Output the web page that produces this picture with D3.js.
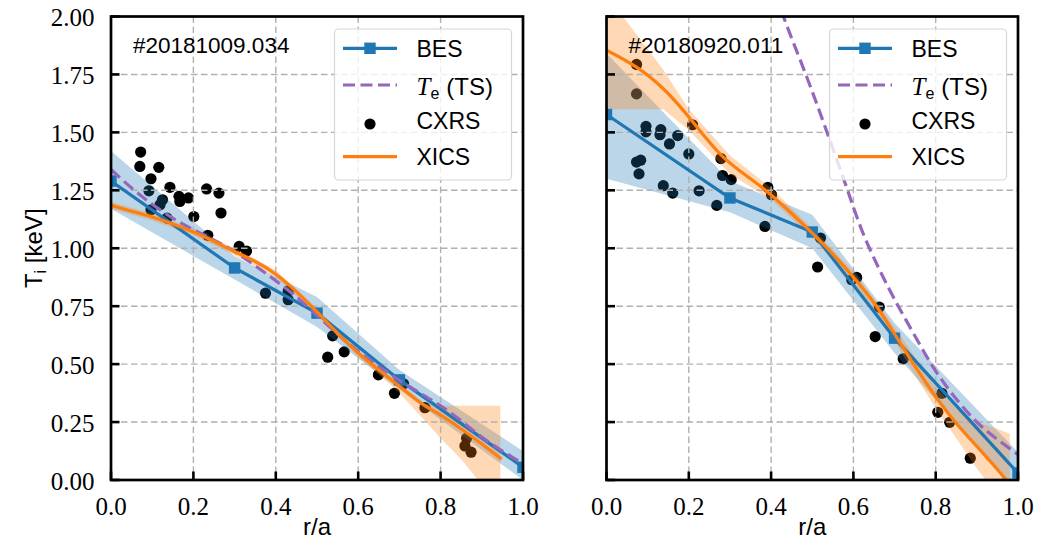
<!DOCTYPE html>
<html><head><meta charset="utf-8">
<script src="https://cdn.jsdelivr.net/npm/d3@7"></script>
<style>body{margin:0;background:#fff}svg{display:block}</style>
</head><body>
<svg id="c" width="1040" height="559"></svg>
<script>
// ---------- data ----------
const xTicks = [0, 0.2, 0.4, 0.6, 0.8, 1.0];
const yTicks = [0, 0.25, 0.5, 0.75, 1.0, 1.25, 1.5, 1.75, 2.0];
const shots = ["#20181009.034", "#20180920.011"];
const seriesNames = ["BES", "Te (TS)", "CXRS", "XICS"];

// BES (both panels share radial positions)
const besX = [0, 0.3, 0.5, 0.7, 1.0];
const besL = [1.29, 0.915, 0.72, 0.432, 0.055];
const besLoL = [1.17, 0.865, 0.66, 0.39, 0.0];
const besHiL = [1.42, 0.965, 0.79, 0.475, 0.125];
const besR = [1.577, 1.217, 1.07, 0.612, 0.03];
const besLoR = [1.30, 1.155, 1.0, 0.548, -0.06];
const besHiR = [1.84, 1.29, 1.145, 0.677, 0.12];

// Te (TS)
const teXL = [0, 0.05, 0.1, 0.15, 0.2, 0.25, 0.3, 0.35, 0.4, 0.45, 0.5, 0.55, 0.6, 0.65, 0.7, 0.75, 0.8, 0.85, 0.9, 0.95, 1.0];
const teL = [1.34, 1.26, 1.19, 1.13, 1.08, 1.035, 0.985, 0.925, 0.86, 0.79, 0.71, 0.63, 0.555, 0.49, 0.43, 0.375, 0.32, 0.255, 0.185, 0.125, 0.07];
const teXR = [0.40, 0.43, 0.48, 0.53, 0.58, 0.62, 0.66, 0.70, 0.75, 0.80, 0.85, 0.90, 0.95, 1.0];
const teR = [2.17, 2.0, 1.77, 1.53, 1.28, 1.08, 0.92, 0.78, 0.62, 0.47, 0.35, 0.25, 0.175, 0.11];

// XICS
const xicsXL = [0, 0.05, 0.1, 0.15, 0.2, 0.25, 0.3, 0.35, 0.4, 0.45, 0.5, 0.55, 0.6, 0.65, 0.7, 0.75, 0.8, 0.85, 0.9, 0.948];
const xicsL = [1.185, 1.16, 1.135, 1.105, 1.07, 1.03, 0.985, 0.943, 0.888, 0.813, 0.725, 0.633, 0.548, 0.475, 0.405, 0.335, 0.28, 0.22, 0.155, 0.09];
const xicsBandXL = [0, 0.1, 0.2, 0.3, 0.4, 0.5, 0.6, 0.65, 0.7, 0.76, 0.8, 0.85, 0.9, 0.945];
const xicsHiL = [1.2, 1.15, 1.085, 1.0, 0.905, 0.74, 0.56, 0.49, 0.42, 0.33, 0.32, 0.32, 0.32, 0.32];
const xicsLoL = [1.17, 1.12, 1.055, 0.97, 0.875, 0.71, 0.53, 0.455, 0.375, 0.26, 0.18, 0.09, -0.02, -0.12];
const xicsXR = [0, 0.07, 0.14, 0.21, 0.28, 0.35, 0.4, 0.45, 0.5, 0.55, 0.6, 0.65, 0.7, 0.75, 0.8, 0.85, 0.9, 0.95, 0.98];
const xicsR = [1.855, 1.785, 1.685, 1.545, 1.40, 1.30, 1.23, 1.15, 1.065, 0.975, 0.875, 0.765, 0.63, 0.49, 0.36, 0.245, 0.145, 0.045, -0.02];
const xicsBandXR = [0, 0.04, 0.1, 0.138, 0.2, 0.3, 0.4, 0.5, 0.6, 0.7, 0.75, 0.8, 0.85, 0.9, 0.95, 0.98];
const xicsHiR = [2.1, 2.0, 1.86, 1.77, 1.60, 1.40, 1.26, 1.085, 0.9, 0.66, 0.53, 0.40, 0.31, 0.25, 0.22, 0.20];
const xicsLoR = [1.60, 1.60, 1.60, 1.60, 1.51, 1.32, 1.21, 1.045, 0.85, 0.60, 0.45, 0.31, 0.18, 0.05, -0.07, -0.15];

// CXRS
const cxrsXL = [0.072, 0.070, 0.116, 0.097, 0.092, 0.143, 0.165, 0.188, 0.167, 0.232, 0.262, 0.267, 0.201, 0.125, 0.119, 0.097, 0.136, 0.235, 0.311, 0.329, 0.375, 0.430, 0.430, 0.538, 0.526, 0.566, 0.649, 0.710, 0.688, 0.762, 0.863, 0.859, 0.874];
const cxrsYL = [1.415, 1.353, 1.349, 1.300, 1.248, 1.263, 1.224, 1.217, 1.202, 1.256, 1.238, 1.152, 1.137, 1.209, 1.188, 1.166, 1.130, 1.056, 1.008, 0.988, 0.806, 0.816, 0.778, 0.622, 0.530, 0.553, 0.454, 0.415, 0.374, 0.312, 0.180, 0.147, 0.120];
const cxrsXR = [0.073, 0.073, 0.096, 0.096, 0.132, 0.130, 0.173, 0.153, 0.200, 0.209, 0.073, 0.083, 0.079, 0.138, 0.161, 0.225, 0.268, 0.278, 0.282, 0.303, 0.392, 0.401, 0.385, 0.520, 0.513, 0.608, 0.596, 0.663, 0.653, 0.721, 0.815, 0.805, 0.834, 0.884];
const cxrsYR = [1.793, 1.666, 1.526, 1.502, 1.512, 1.490, 1.486, 1.450, 1.407, 1.533, 1.372, 1.380, 1.321, 1.270, 1.238, 1.248, 1.185, 1.387, 1.314, 1.296, 1.263, 1.231, 1.094, 1.044, 0.919, 0.874, 0.864, 0.746, 0.619, 0.523, 0.374, 0.292, 0.249, 0.094];

// ---------- drawing ----------
const C = {bes: "#1f77b4", te: "#9467bd", xics: "#ff7f0e", cx: "#000"};
const SANS = "'Liberation Sans', Arial, sans-serif";
const SERIF = "'Liberation Serif', 'Times New Roman', serif";
const svg = d3.select("#c");
const yTop = 16.5, yBot = 480;
const y = d3.scaleLinear().domain([0, 2]).range([yBot, yTop]);
const LW = 3.2, DASH = "12,5.5";

const panels = [
  {x0: 111, x1: 523, shot: shots[0], bes: besL, besLo: besLoL, besHi: besHiL,
   teX: teXL, te: teL, xX: xicsXL, xv: xicsL, xbX: xicsBandXL, xLo: xicsLoL, xHi: xicsHiL,
   cX: cxrsXL, cY: cxrsYL, yLabels: true},
  {x0: 606.5, x1: 1018, shot: shots[1], bes: besR, besLo: besLoR, besHi: besHiR,
   teX: teXR, te: teR, xX: xicsXR, xv: xicsR, xbX: xicsBandXR, xLo: xicsLoR, xHi: xicsHiR,
   cX: cxrsXR, cY: cxrsYR, yLabels: false}
];

panels.forEach((p, i) => {
  const x = d3.scaleLinear().domain([0, 1]).range([p.x0, p.x1]);
  const clipId = "clip" + i;
  svg.append("clipPath").attr("id", clipId).append("rect")
    .attr("x", p.x0).attr("y", yTop).attr("width", p.x1 - p.x0).attr("height", yBot - yTop);
  const g = svg.append("g").attr("clip-path", `url(#${clipId})`);

  // CXRS points (below bands)
  g.selectAll("circle.cx").data(d3.zip(p.cX, p.cY)).join("circle")
    .attr("cx", d => x(d[0])).attr("cy", d => y(d[1])).attr("r", 5.6).attr("fill", C.cx);

  // bands
  const area = d3.area().x(d => x(d[0])).y0(d => y(d[1])).y1(d => y(d[2]));
  g.append("path").datum(d3.zip(besX, p.besLo, p.besHi)).attr("d", area)
    .attr("fill", C.bes).attr("fill-opacity", 0.3);
  g.append("path").datum(d3.zip(p.xbX, p.xLo, p.xHi)).attr("d", area)
    .attr("fill", C.xics).attr("fill-opacity", 0.3);

  // grid
  const grid = g.append("g").attr("stroke", "#b0b0b0").attr("stroke-width", 1.4)
    .attr("stroke-dasharray", "6.5,3.5");
  xTicks.forEach(t => grid.append("line").attr("x1", x(t)).attr("x2", x(t)).attr("y1", yTop).attr("y2", yBot));
  yTicks.forEach(t => grid.append("line").attr("x1", p.x0).attr("x2", p.x1).attr("y1", y(t)).attr("y2", y(t)));

  // lines
  const lin = d3.line().x(d => x(d[0])).y(d => y(d[1]));
  const smooth = d3.line().x(d => x(d[0])).y(d => y(d[1])).curve(d3.curveNatural);
  g.append("path").datum(d3.zip(besX, p.bes)).attr("d", lin)
    .attr("fill", "none").attr("stroke", C.bes).attr("stroke-width", LW);
  g.selectAll("rect.bes").data(d3.zip(besX, p.bes)).join("rect")
    .attr("x", d => x(d[0]) - 5.7).attr("y", d => y(d[1]) - 5.7)
    .attr("width", 11.4).attr("height", 11.4).attr("fill", C.bes);
  g.append("path").datum(d3.zip(p.teX, p.te)).attr("d", smooth)
    .attr("fill", "none").attr("stroke", C.te).attr("stroke-width", LW).attr("stroke-dasharray", DASH);
  g.append("path").datum(d3.zip(p.xX, p.xv)).attr("d", smooth)
    .attr("fill", "none").attr("stroke", C.xics).attr("stroke-width", LW);

  // ticks (inward)
  const tk = svg.append("g").attr("stroke", "#000").attr("stroke-width", 2.6);
  xTicks.forEach(t => tk.append("line").attr("x1", x(t)).attr("x2", x(t)).attr("y1", yBot).attr("y2", yBot - 8.5));
  yTicks.forEach(t => tk.append("line").attr("x1", p.x0).attr("x2", p.x0 + 8.5).attr("y1", y(t)).attr("y2", y(t)));

  // spines
  svg.append("rect").attr("x", p.x0).attr("y", yTop).attr("width", p.x1 - p.x0).attr("height", yBot - yTop)
    .attr("fill", "none").attr("stroke", "#000").attr("stroke-width", 2.7);

  // tick labels
  svg.append("g").selectAll("text").data(xTicks).join("text")
    .attr("x", d => x(d)).attr("y", 515).attr("text-anchor", "middle")
    .style("font-family", SERIF).style("font-size", "25px").text(d => d.toFixed(1));
  if (p.yLabels) {
    svg.append("g").selectAll("text").data(yTicks).join("text")
      .attr("x", 94.5).attr("y", d => y(d) + 9.5).attr("text-anchor", "end")
      .style("font-family", SERIF).style("font-size", "25px").text(d => d.toFixed(2));
  }

  // x label
  svg.append("text").attr("x", (p.x0 + p.x1) / 2).attr("y", 535).attr("text-anchor", "middle")
    .style("font-family", SANS).style("font-size", "24px").text("r/a");

  // shot annotation
  svg.append("text").attr("x", p.x0 + 22).attr("y", 52.5)
    .style("font-family", SANS).style("font-size", "22.5px").text(p.shot);

  // legend
  const lw = 177, lh = 151, lx = p.x1 - 11.5 - lw, ly = 29;
  const lg = svg.append("g");
  lg.append("rect").attr("x", lx).attr("y", ly).attr("width", lw).attr("height", lh)
    .attr("rx", 4).attr("fill", "#fff").attr("fill-opacity", 0.8)
    .attr("stroke", "#d6d6d6").attr("stroke-width", 1.2);
  const hx0 = lx + 8.5, hx1 = lx + 62.5, hxm = (hx0 + hx1) / 2, tx = lx + 82;
  const hy = [19.3, 56, 95, 127.7].map(v => ly + v);
  const by = [28.3, 66, 100, 136].map(v => ly + v);
  lg.append("line").attr("x1", hx0).attr("x2", hx1).attr("y1", hy[0]).attr("y2", hy[0])
    .attr("stroke", C.bes).attr("stroke-width", LW);
  lg.append("rect").attr("x", hxm - 5.7).attr("y", hy[0] - 5.7).attr("width", 11.4).attr("height", 11.4).attr("fill", C.bes);
  lg.append("line").attr("x1", hx0).attr("x2", hx1).attr("y1", hy[1]).attr("y2", hy[1])
    .attr("stroke", C.te).attr("stroke-width", LW).attr("stroke-dasharray", DASH);
  lg.append("circle").attr("cx", hxm).attr("cy", hy[2]).attr("r", 5.6).attr("fill", C.cx);
  lg.append("line").attr("x1", hx0).attr("x2", hx1).attr("y1", hy[3]).attr("y2", hy[3])
    .attr("stroke", C.xics).attr("stroke-width", LW);
  const txt = (yy) => lg.append("text").attr("x", tx).attr("y", yy).style("font-family", SANS).style("font-size", "23px");
  txt(by[0]).text(seriesNames[0]);
  const te = txt(by[1]);
  te.append("tspan").style("font-family", SERIF).style("font-style", "italic").style("font-size", "25px").text("T");
  te.append("tspan").attr("dy", 4).style("font-size", "16px").text("e");
  te.append("tspan").attr("dy", -4).attr("dx", 7).style("font-size", "24px").text("(TS)");
  txt(by[2]).text(seriesNames[2]);
  txt(by[3]).text(seriesNames[3]);
});

// y label
const yl = svg.append("text").attr("transform", `translate(42,${(yTop + yBot) / 2}) rotate(-90)`)
  .attr("text-anchor", "middle").style("font-family", SANS).style("font-size", "24px");
yl.append("tspan").text("T");
yl.append("tspan").attr("dy", 4).style("font-size", "16px").text("i");
yl.append("tspan").attr("dy", -4).text(" [keV]");
</script>
</body></html>
